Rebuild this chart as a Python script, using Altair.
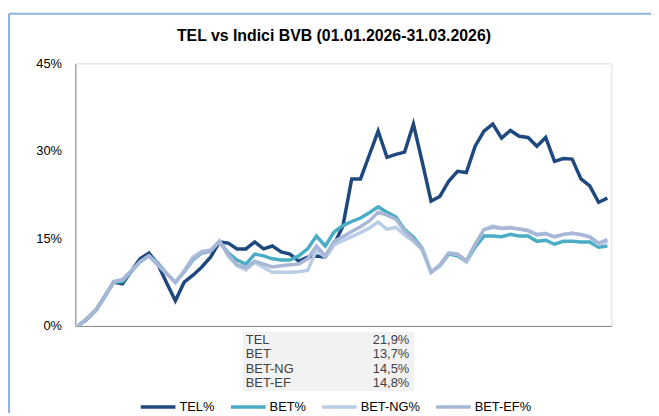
import altair as alt
import pandas as pd

# ---- data (percent change since 31.12.2025), 61 points ----
tel = [0, 1.2, 2.7, 5.1, 7.5, 7.2, 9.4, 11.5, 12.5, 10.6,
       7.4, 4.3, 7.5, 8.7, 10.1, 11.8, 14.4, 14.2, 13.2, 13.2,
       14.4, 13.2, 13.7, 12.7, 12.3, 11.1, 11.8, 12.0, 11.8, 14.0,
       17.1, 25.2, 25.2, 29.3, 33.4, 28.9, 29.4, 29.8, 34.6, 28.1,
       21.4, 22.2, 24.8, 26.5, 26.3, 30.8, 33.4, 34.6, 32.2, 33.5,
       32.5, 32.3, 30.8, 32.3, 28.2, 28.7, 28.6, 25.2, 24.0, 21.2,
       21.9]
bet = [0, 1.3, 2.7, 5.0, 7.5, 7.6, 9.3, 11.0, 12.0, 10.8,
       9.0, 7.5, 9.3, 11.3, 12.5, 12.8, 14.5, 12.5, 11.3, 10.6,
       12.3, 12.0, 11.5, 11.3, 11.3, 12.0, 13.2, 15.4, 13.7, 16.1,
       17.2, 17.9, 18.5, 19.4, 20.4, 19.5, 18.7, 16.5, 15.2, 13.3,
       9.2, 10.3, 12.3, 12.0, 11.0, 13.5, 15.4, 15.4, 15.3, 15.7,
       15.4, 15.4, 14.5, 14.7, 14.0, 14.5, 14.5, 14.4, 14.4, 13.5,
       13.7]
bet_ng = [0, 1.3, 2.8, 5.0, 7.6, 8.0, 9.5, 11.0, 12.0, 10.5,
          9.0, 7.4, 9.5, 11.8, 12.8, 13.0, 14.5, 12.0, 10.3, 9.6,
          10.9, 10.0, 9.2, 9.2, 9.2, 9.3, 9.5, 13.0, 11.8, 13.9,
          14.6, 15.3, 16.0, 16.8, 17.8, 16.6, 16.9, 15.6, 14.5, 13.0,
          9.2, 10.5, 12.5, 12.3, 11.0, 14.0, 16.5, 17.1, 16.8, 16.9,
          16.6, 16.4, 15.7, 15.9, 15.2, 15.7, 15.9, 15.6, 15.2, 14.0,
          14.5]
bet_ef = [0, 1.3, 2.8, 5.0, 7.6, 7.9, 9.4, 11.0, 12.0, 10.5,
          9.0, 7.5, 9.3, 11.5, 12.6, 12.9, 14.5, 12.2, 10.5, 10.0,
          11.1, 10.6, 10.1, 10.3, 10.5, 10.6, 11.5, 13.7, 12.0, 14.5,
          15.3, 16.2, 17.0, 18.0, 19.5, 19.0, 18.3, 16.3, 14.8, 13.2,
          9.2, 10.4, 12.5, 12.3, 11.2, 14.0, 16.5, 16.9, 16.7, 16.8,
          16.6, 16.3, 15.6, 15.8, 15.3, 15.7, 15.9, 15.7, 15.3, 14.2,
          14.8]

series_names = ["TEL%", "BET%", "BET-NG%", "BET-EF%"]
series_colors = ["#1f497d", "#4bacc6", "#b9cde5", "#a7b7d5"]
y_ticks = [0, 15, 30, 45]

table_labels = ["TEL", "BET", "BET-NG", "BET-EF"]
table_values = ["21,9%", "13,7%", "14,5%", "14,8%"]

title_text = "TEL vs Indici BVB (01.01.2026-31.03.2026)"

# ---- tables ----
rows = []
for name, vals in zip(series_names, [tel, bet, bet_ng, bet_ef]):
    for i, v in enumerate(vals):
        rows.append({"i": i, "v": v, "s": name})
df = pd.DataFrame(rows)

tdf = pd.DataFrame({"row": list(range(len(table_labels))),
                    "label": table_labels, "val": table_values})

W, H = 541, 265
FONT = "Liberation Sans"
one = pd.DataFrame({"a": [0]})

frame_top = alt.Chart(one).mark_rule(
    color="#8db3e2", strokeWidth=2).encode(
    x=alt.value(-67), x2=alt.value(581), y=alt.value(-50))
frame_left = alt.Chart(one).mark_rule(
    color="#8db3e2", strokeWidth=2).encode(
    x=alt.value(-67), y=alt.value(-50), y2=alt.value(353))

title = alt.Chart(pd.DataFrame({"t": [title_text]})).mark_text(
    font=FONT, fontSize=16, fontWeight="bold", color="#000000",
    align="center", baseline="middle").encode(
    x=alt.value(261), y=alt.value(-28), text="t:N")

lines = alt.Chart(df).mark_line(strokeWidth=3.5).encode(
    x=alt.X("i:Q",
            scale=alt.Scale(domain=[-0.34, 60.45], nice=False, zero=False),
            axis=alt.Axis(labels=False, ticks=False, grid=False, title=None,
                          domainColor="#868686", domainWidth=1)),
    y=alt.Y("v:Q",
            scale=alt.Scale(domain=[0, 45], nice=False),
            axis=alt.Axis(values=y_ticks, labelExpr="datum.value + '%'",
                          ticks=False, grid=False, title=None,
                          domainColor="#868686", labelFont=FONT,
                          labelFontSize=13, labelColor="#000000",
                          labelPadding=14)),
    color=alt.Color("s:N",
                    scale=alt.Scale(domain=series_names, range=series_colors),
                    sort=series_names,
                    legend=alt.Legend(orient="none", legendX=64, legendY=327,
                                      direction="horizontal", title=None,
                                      symbolType="stroke", symbolSize=1225,
                                      symbolStrokeWidth=3.5, labelFont=FONT,
                                      labelFontSize=13, labelColor="#000000",
                                      labelOffset=2, columnPadding=9)),
    detail="s:N",
)

table_bg = alt.Chart(one).mark_rect(
    color="#f2f2f2").encode(
    x=alt.value(169), x2=alt.value(342), y=alt.value(271), y2=alt.value(331))

row_scale = alt.Scale(type="point", range=[279, 323], padding=0)
table_lab = alt.Chart(tdf).mark_text(
    align="left", baseline="middle", font=FONT, fontSize=13,
    color="#404040").encode(
    x=alt.value(172),
    y=alt.Y("row:O", scale=row_scale, axis=None),
    text="label:N")
table_val = alt.Chart(tdf).mark_text(
    align="right", baseline="middle", font=FONT, fontSize=13,
    color="#404040").encode(
    x=alt.value(337),
    y=alt.Y("row:O", scale=row_scale, axis=None),
    text="val:N")

table = alt.layer(table_bg, table_lab, table_val)

chart = alt.layer(frame_top, frame_left, title, table, lines).resolve_scale(
    y="independent").properties(
    width=W, height=H,
    padding={"left": 68, "top": 54, "right": 40, "bottom": 88},
    autosize=alt.AutoSizeParams(type="none"),
).configure_view(strokeWidth=0).configure(background="#ffffff")

chart.save("out.html", embed_options={"renderer": "svg", "actions": False})
